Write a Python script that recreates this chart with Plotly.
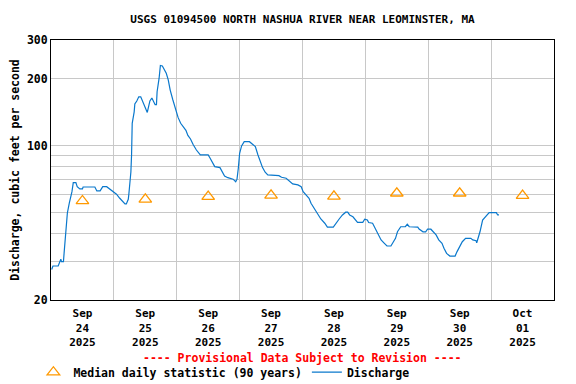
import math
import plotly.graph_objects as go

# ---- data ----
discharge_time = [
    "2025-09-24 00:15", "2025-09-24 00:45", "2025-09-24 02:45", "2025-09-24 03:30", "2025-09-24 03:45",
    "2025-09-24 04:00", "2025-09-24 04:45", "2025-09-24 05:00", "2025-09-24 05:15", "2025-09-24 05:45",
    "2025-09-24 06:15", "2025-09-24 07:00", "2025-09-24 08:00", "2025-09-24 08:30", "2025-09-24 09:30",
    "2025-09-24 10:00", "2025-09-24 11:00", "2025-09-24 12:00", "2025-09-24 12:15", "2025-09-24 16:45",
    "2025-09-24 17:30", "2025-09-24 18:45", "2025-09-24 19:45", "2025-09-24 21:15", "2025-09-24 22:30",
    "2025-09-24 23:45",
    "2025-09-25 01:00", "2025-09-25 02:15", "2025-09-25 03:30", "2025-09-25 04:15", "2025-09-25 04:45",
    "2025-09-25 05:30", "2025-09-25 05:45", "2025-09-25 06:30", "2025-09-25 06:45", "2025-09-25 07:00",
    "2025-09-25 07:45", "2025-09-25 08:00", "2025-09-25 08:45", "2025-09-25 09:30", "2025-09-25 10:15",
    "2025-09-25 11:00", "2025-09-25 11:45", "2025-09-25 12:45", "2025-09-25 13:15", "2025-09-25 13:45",
    "2025-09-25 14:30", "2025-09-25 15:15", "2025-09-25 15:45", "2025-09-25 16:15", "2025-09-25 16:30",
    "2025-09-25 17:15", "2025-09-25 17:45", "2025-09-25 18:30", "2025-09-25 19:15", "2025-09-25 20:00",
    "2025-09-25 20:45", "2025-09-25 21:30", "2025-09-25 22:30", "2025-09-25 23:30",
    "2025-09-26 00:30", "2025-09-26 01:30", "2025-09-26 02:30", "2025-09-26 03:30", "2025-09-26 04:15",
    "2025-09-26 05:15", "2025-09-26 06:15", "2025-09-26 07:30", "2025-09-26 09:00", "2025-09-26 12:00",
    "2025-09-26 12:45", "2025-09-26 13:45", "2025-09-26 14:30", "2025-09-26 16:30", "2025-09-26 17:30",
    "2025-09-26 18:15", "2025-09-26 19:30", "2025-09-26 21:30", "2025-09-26 22:30", "2025-09-26 23:00",
    "2025-09-26 23:30",
    "2025-09-27 00:00", "2025-09-27 00:45", "2025-09-27 01:45", "2025-09-27 03:45", "2025-09-27 05:00",
    "2025-09-27 06:00", "2025-09-27 07:00", "2025-09-27 08:00", "2025-09-27 08:45", "2025-09-27 09:45",
    "2025-09-27 10:45", "2025-09-27 15:00", "2025-09-27 16:00", "2025-09-27 17:45", "2025-09-27 19:00",
    "2025-09-27 20:15", "2025-09-27 22:15", "2025-09-27 22:45", "2025-09-27 23:30",
    "2025-09-28 00:15", "2025-09-28 01:30", "2025-09-28 02:30", "2025-09-28 03:15", "2025-09-28 04:30",
    "2025-09-28 05:45", "2025-09-28 07:00", "2025-09-28 08:30", "2025-09-28 09:30", "2025-09-28 11:45",
    "2025-09-28 12:45", "2025-09-28 14:00", "2025-09-28 15:15", "2025-09-28 16:30", "2025-09-28 17:15",
    "2025-09-28 18:00", "2025-09-28 19:15", "2025-09-28 20:30", "2025-09-28 21:00", "2025-09-28 23:00",
    "2025-09-28 23:45",
    "2025-09-29 00:45", "2025-09-29 01:15", "2025-09-29 02:45", "2025-09-29 03:45", "2025-09-29 04:45",
    "2025-09-29 06:00", "2025-09-29 07:15", "2025-09-29 08:15", "2025-09-29 09:45", "2025-09-29 10:45",
    "2025-09-29 11:30", "2025-09-29 12:15", "2025-09-29 13:30", "2025-09-29 15:15", "2025-09-29 16:00",
    "2025-09-29 16:45", "2025-09-29 20:00", "2025-09-29 20:30", "2025-09-29 22:00", "2025-09-29 23:00",
    "2025-09-29 23:45",
    "2025-09-30 01:00", "2025-09-30 02:00", "2025-09-30 03:00", "2025-09-30 04:00", "2025-09-30 05:15",
    "2025-09-30 06:00", "2025-09-30 07:00", "2025-09-30 08:15", "2025-09-30 10:15", "2025-09-30 11:00",
    "2025-09-30 11:45", "2025-09-30 13:00", "2025-09-30 14:15", "2025-09-30 16:15", "2025-09-30 17:00",
    "2025-09-30 18:15", "2025-09-30 18:30", "2025-09-30 19:00", "2025-09-30 19:45", "2025-09-30 20:45",
    "2025-09-30 22:00", "2025-09-30 23:15",
    "2025-10-01 02:00", "2025-10-01 02:30", "2025-10-01 03:00",
]
discharge_cfs = [
    27.5, 28.5, 28.5, 29.8, 30.6,
    29.8, 29.8, 32.6, 36.2, 44.6,
    49.5, 55.0, 61.8, 67.9, 67.9,
    65.1, 63.6, 63.6, 64.9, 64.9,
    62.3, 62.3, 65.1, 65.1, 63.6,
    61.8,
    60.2, 57.7, 55.7, 54.4, 54.4,
    57.1, 60.8, 76.1, 90.6, 126,
    142, 154, 159, 166, 166,
    158, 150, 141, 150, 159,
    164, 158, 153, 153, 175,
    201, 230, 229, 221, 212,
    198, 178, 161, 145,
    134, 126, 121, 117, 111,
    107, 101, 95.4, 90.6, 90.6,
    87.5, 83.1, 80.2, 79.4, 75.7,
    72.8, 71.5, 70.4, 68.6, 70.4,
    78.9,
    92.2, 99.5, 104, 104, 101,
    98.8, 90.6, 84.5, 79.4, 75.7,
    73.6, 73.0, 71.8, 71.1, 69.1,
    67.0, 66.3, 65.6, 65.1,
    61.8, 59.7, 57.7, 54.8, 52.0,
    49.0, 46.5, 44.5, 42.7, 42.7,
    44.5, 46.5, 48.5, 49.9, 49.9,
    48.5, 47.6, 46.0, 44.9, 44.9,
    46.4,
    46.0, 44.8, 44.5, 42.2, 39.4,
    37.4, 36.1, 35.1, 35.1, 36.7,
    38.0, 40.7, 42.9, 42.9, 44.0,
    42.9, 42.7, 41.9, 40.7, 40.7,
    41.8,
    41.8, 40.7, 39.4, 37.4, 36.1,
    34.3, 32.5, 31.6, 31.6, 33.1,
    34.6, 36.7, 38.0, 38.0, 37.4,
    37.1, 36.3, 38.0, 40.7, 46.0,
    48.0, 49.7,
    49.7, 48.5, 48.5,
]

median_time = ["2025-09-24 12:00", "2025-09-25 12:00", "2025-09-26 12:00", "2025-09-27 12:00",
               "2025-09-28 12:00", "2025-09-29 12:00", "2025-09-30 12:00", "2025-10-01 12:00"]
median_cfs = [56.1, 57.1, 58.7, 59.5, 58.9, 60.8, 60.8, 59.3]

x_tick_vals = median_time
x_tick_text = ["Sep<br>24<br>2025", "Sep<br>25<br>2025", "Sep<br>26<br>2025", "Sep<br>27<br>2025",
               "Sep<br>28<br>2025", "Sep<br>29<br>2025", "Sep<br>30<br>2025", "Oct<br>01<br>2025"]
y_tick_vals = [20, 100, 200, 300]
y_minor_vals = [30, 40, 50, 60, 70, 80, 90]

FONT = "DejaVu Sans Mono"
GRID = "#c8c8c8"

fig = go.Figure()
fig.add_trace(go.Scatter(
    x=median_time, y=median_cfs, mode="markers",
    name="Median daily statistic (90 years)",
    marker=dict(symbol="triangle-up-open", size=11, color="#ff9900", line=dict(width=1.3, color="#ff9900")),
))
fig.add_trace(go.Scatter(
    x=discharge_time, y=discharge_cfs, mode="lines", name="Discharge",
    line=dict(color="#0a78cc", width=1.2),
))

# the page body adds an 8px offset, so the figure is 568x376 drawn from (8, 8)
fig.update_layout(
    width=568, height=376,
    margin=dict(l=43, r=22, t=32, b=84, autoexpand=False),
    paper_bgcolor="white", plot_bgcolor="white",
    font=dict(family=FONT, size=11.5, color="black", weight="bold"),
    title=dict(text="USGS 01094500 NORTH NASHUA RIVER NEAR LEOMINSTER, MA",
               x=0.5, xref="paper", xanchor="center", y=1 - 11 / 376, yanchor="middle",
               font=dict(family=FONT, size=11, color="black", weight="bold")),
    showlegend=True,
    legend=dict(orientation="h", x=-0.035, xanchor="left", y=-0.222, yanchor="top",
                font=dict(family=FONT, size=11.5, color="black", weight="bold"),
                bgcolor="rgba(0,0,0,0)", itemwidth=30, tracegroupgap=0),
    annotations=[dict(text="---- Provisional Data Subject to Revision ----",
                      x=0.5, xref="paper", y=-0.223, yref="paper", yanchor="middle",
                      showarrow=False,
                      font=dict(family=FONT, size=11.5, color="#ff0000", weight="bold"))],
)

fig.update_xaxes(
    type="date", range=["2025-09-24 00:00", "2025-10-02 00:00"],
    tickmode="array", tickvals=x_tick_vals, ticktext=x_tick_text, ticks="",
    ticklabelstandoff=3,
    showgrid=False, zeroline=False,
    minor=dict(dtick=86400000, tick0="2025-09-24 00:00", showgrid=True, gridcolor=GRID, gridwidth=1, ticks=""),
    showline=True, mirror=True, linecolor="black", linewidth=1,
    tickfont=dict(family=FONT, size=11, color="black", weight="bold"),
)
fig.update_yaxes(
    type="log", range=[math.log10(20), math.log10(300)],
    tickmode="array", tickvals=y_tick_vals, ticktext=[str(v) for v in y_tick_vals], ticks="",
    showgrid=True, gridcolor=GRID, gridwidth=1, zeroline=False,
    minor=dict(tickmode="array", tickvals=y_minor_vals, showgrid=True, gridcolor=GRID, gridwidth=1, ticks=""),
    showline=True, mirror=True, linecolor="black", linewidth=1,
    tickfont=dict(family=FONT, size=11.5, color="black", weight="bold"),
    title=dict(text="Discharge, cubic feet per second", standoff=7,
               font=dict(family=FONT, size=11.5, color="black", weight="bold")),
)

fig.write_html("out.html")
